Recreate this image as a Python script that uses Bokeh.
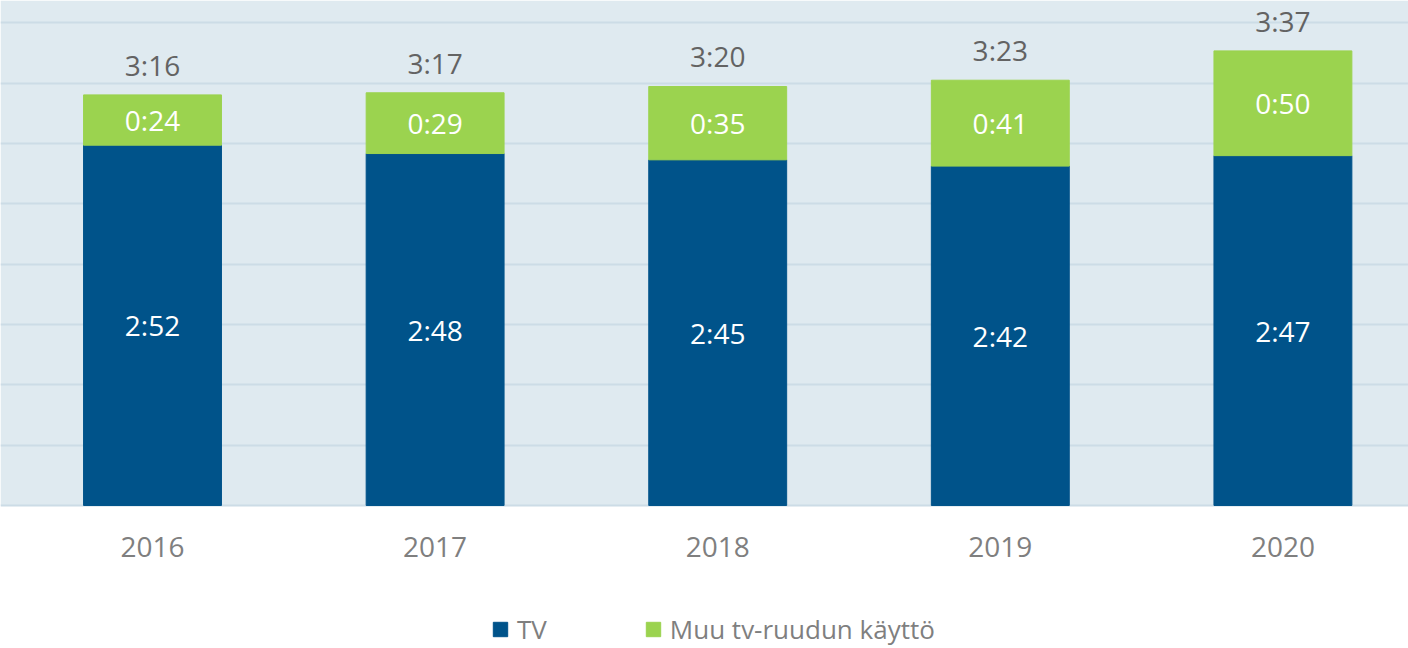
from bokeh.plotting import figure
from bokeh.models import ColumnDataSource, FixedTicker, Range1d, BoxAnnotation
from bokeh.core.properties import value
from bokeh.embed import file_html
from bokeh.resources import INLINE

# ---- data (minutes per day) ----
years = ["2016", "2017", "2018", "2019", "2020"]
tv_minutes = [172, 168, 165, 162, 167]
muu_minutes = [24, 29, 35, 41, 50]
series_labels = ["TV", "Muu tv-ruudun käyttö"]
grid_minutes = [0, 28.8, 57.6, 86.4, 115.2, 144.0, 172.8, 201.6, 230.4]

BLUE = "#00538A"
GREEN = "#9BD34F"
PANEL = "#DFEAF0"
FONT = "Open Sans"


def hm(m):
    return f"{m // 60}:{m % 60:02d}"


xs = list(range(len(years)))
totals = [a + b for a, b in zip(tv_minutes, muu_minutes)]
src = ColumnDataSource(dict(
    x=xs,
    year=years,
    base=[0] * len(years),
    tv=tv_minutes,
    muu=muu_minutes,
    total=totals,
    tv_mid=[t / 2 for t in tv_minutes],
    muu_mid=[t + m / 2 for t, m in zip(tv_minutes, muu_minutes)],
    tv_lab=[hm(v) for v in tv_minutes],
    muu_lab=[hm(v) for v in muu_minutes],
    tot_lab=[hm(v) for v in totals],
))

p = figure(width=1408, height=648, output_backend="svg", toolbar_location=None,
           x_range=Range1d(-0.5379, 4.4444), y_range=Range1d(-68.26, 241.05),
           min_border=0, min_border_left=0, min_border_right=0,
           min_border_top=0, min_border_bottom=0,
           background_fill_color="white", border_fill_color="white",
           outline_line_color=None)
p.xaxis.visible = False
p.yaxis.visible = False

# light panel behind the bars (from the baseline upward)
p.add_layout(BoxAnnotation(bottom=0, fill_color=PANEL, fill_alpha=1.0,
                           line_color=None, level="image"))

# grid
p.xgrid.visible = False
p.ygrid.ticker = FixedTicker(ticks=grid_minutes)
p.ygrid.grid_line_color = "#CCDCE6"
p.ygrid.grid_line_width = 2

p.vbar_stack(["tv", "muu"], x="x", width=0.488, color=[BLUE, GREEN],
             source=src, legend_label=series_labels)

common = dict(source=src, text_align="center", text_baseline="middle",
              text_font=value(FONT), text_font_size="28px")
p.text(x="x", y="tv_mid", text="tv_lab", text_color="white", **common)
p.text(x="x", y="muu_mid", text="muu_lab", text_color="white", **common)
p.text(x="x", y="total", text="tot_lab", text_color="#636363", y_offset=-30,
       **common)
# category (year) labels under the baseline
p.text(x="x", y="base", text="year", text_color="#7F7F7F", y_offset=42,
       **common)

# legend
lg = p.legend[0]
lg.orientation = "horizontal"
lg.location = (491, 1)
lg.border_line_color = None
lg.background_fill_alpha = 0
lg.padding = 0
lg.margin = 0
lg.spacing = 97
lg.glyph_width = 18
lg.glyph_height = 18
lg.label_standoff = 8
lg.label_text_font = FONT
lg.label_text_font_size = "26px"
lg.label_text_color = "#7F7F7F"

open("out.html", "w").write(file_html(p, INLINE))
